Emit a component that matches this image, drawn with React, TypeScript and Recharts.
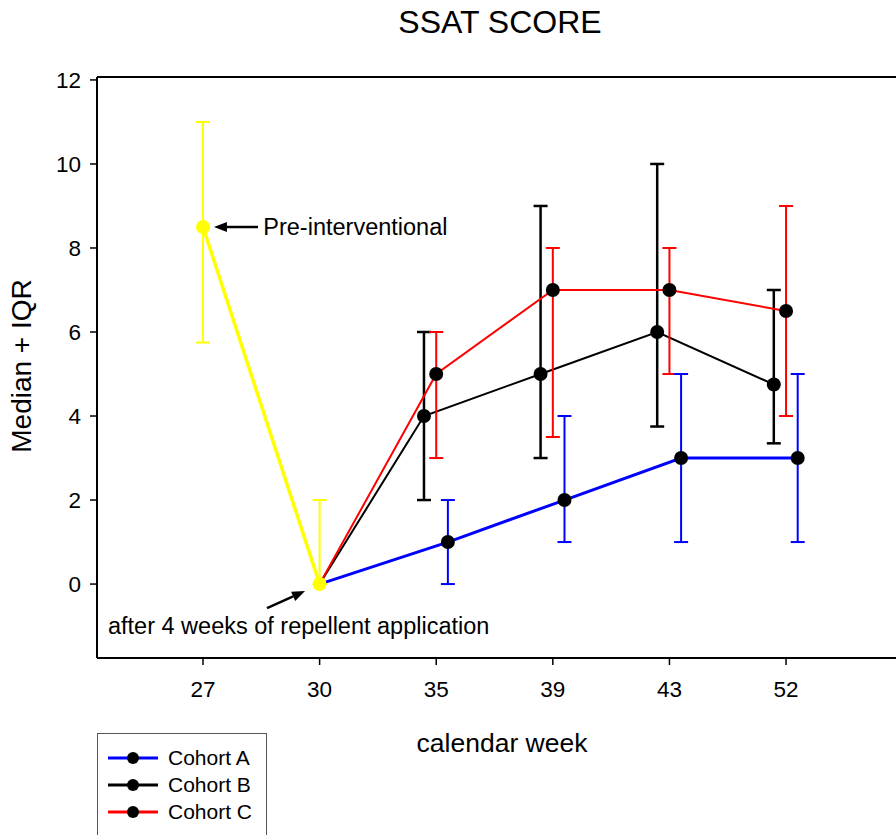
import {
  ComposedChart,
  Line,
  XAxis,
  YAxis,
  ErrorBar,
  ReferenceLine,
  ReferenceDot,
} from "recharts";

const WEEKS = ["27", "30", "35", "39", "43", "52"];
const Y_TICKS = [0, 2, 4, 6, 8, 10, 12];

// pre-interventional + after repellent (weeks 27, 30)
const PRE_MEDIAN = [8.5, 0];
const PRE_LOW = [5.75, 0];
const PRE_HIGH = [11, 2];

// cohorts, weeks 30..52 (first point is the shared start at week 30)
const A_MEDIAN = [0, 1, 2, 3, 3];
const A_LOW = [null, 0, 1, 1, 1];
const A_HIGH = [null, 2, 4, 5, 5];

const B_MEDIAN = [0, 4, 5, 6, 4.75];
const B_LOW = [null, 2, 3, 3.75, 3.35];
const B_HIGH = [null, 6, 9, 10, 7];

const C_MEDIAN = [0, 5, 7, 7, 6.5];
const C_LOW = [null, 3, 3.5, 5, 4];
const C_HIGH = [null, 6, 8, 8, 9];

const X_MIN = -0.909;
const X_MAX = 6.406;
const Y_MIN = -1.76;
const Y_MAX = 12.07;

const FONT = "'Liberation Sans', Arial, sans-serif";
const TICK_FONT = 22.5;

type Pt = { x: number; y: number; err?: [number, number] };

function build(
  median: number[],
  low: (number | null)[],
  high: (number | null)[],
  start: number,
  shift: number
): Pt[] {
  return median.map((m, i) => {
    const lo = low[i];
    const hi = high[i];
    const hasErr = lo != null && hi != null;
    return {
      x: start + i + (hasErr && start > 0 ? shift : 0),
      y: m,
      err: hasErr ? [m - (lo as number), (hi as number) - m] : undefined,
    };
  });
}

const preData = build(PRE_MEDIAN, PRE_LOW, PRE_HIGH, 0, 0);
const aData = build(A_MEDIAN, A_LOW, A_HIGH, 1, 0.1);
const bData = build(B_MEDIAN, B_LOW, B_HIGH, 1, -0.105);
const cData = build(C_MEDIAN, C_LOW, C_HIGH, 1, 0);

const SERIES = [
  { name: "Cohort A", color: "#0000ff" },
  { name: "Cohort B", color: "#000000" },
  { name: "Cohort C", color: "#ff0000" },
];

function blackDot(props: any) {
  const { cx, cy, payload, index } = props;
  if (!payload.err) return <g key={`d${index}`} />;
  return <circle key={`d${index}`} cx={cx} cy={cy} r={7} fill="#000" />;
}

function yellowDot(props: any) {
  const { cx, cy, index } = props;
  return <circle key={`y${index}`} cx={cx} cy={cy} r={7} fill="#ffff00" />;
}

function Arrow(p: any) {
  const { x1, y1, x2, y2 } = p;
  const ang = Math.atan2(y2 - y1, x2 - x1);
  const L = 13;
  const W = 5;
  const bx = x2 - L * Math.cos(ang);
  const by = y2 - L * Math.sin(ang);
  const pts = `${x2},${y2} ${bx - W * Math.sin(ang)},${by + W * Math.cos(ang)} ${bx + W * Math.sin(ang)},${by - W * Math.cos(ang)}`;
  return (
    <g>
      <line x1={x1} y1={y1} x2={bx} y2={by} stroke="#000" strokeWidth={2.5} />
      <polygon points={pts} fill="#000" />
    </g>
  );
}

function XTick(props: any) {
  const { x, y, payload } = props;
  return (
    <text x={x} y={y} dy="0.71em" textAnchor="middle" style={{ fontSize: TICK_FONT }} fontFamily={FONT} fill="#000">
      {WEEKS[payload.value]}
    </text>
  );
}

function YTick(props: any) {
  const { x, y, payload } = props;
  return (
    <text x={x} y={y} dy="0.36em" textAnchor="end" style={{ fontSize: TICK_FONT }} fontFamily={FONT} fill="#000">
      {payload.value}
    </text>
  );
}

export default function App() {
  return (
    <div
      style={{
        position: "absolute",
        left: 0,
        top: 0,
        width: 896,
        height: 835,
        overflow: "hidden",
        background: "#fff",
        fontFamily: FONT,
      }}
    >
      <div
        style={{
          position: "absolute",
          left: 0,
          width: 1000,
          top: 6,
          textAlign: "center",
          fontSize: 32,
          lineHeight: "32px",
          color: "#000",
        }}
      >
        SSAT SCORE
      </div>
      <div
        style={{
          position: "absolute",
          left: 22,
          top: 366,
          transform: "translate(-50%, -50%) rotate(-90deg)",
          whiteSpace: "nowrap",
          fontSize: 28,
          lineHeight: "28px",
          color: "#000",
        }}
      >
        Median + IQR
      </div>
      <div
        style={{
          position: "absolute",
          left: 502,
          top: 730,
          transform: "translateX(-50%)",
          whiteSpace: "nowrap",
          fontSize: 26.5,
          lineHeight: "26px",
          color: "#000",
        }}
      >
        calendar week
      </div>

      <div style={{ position: "absolute", left: 0, top: 0 }}>
        <ComposedChart
          width={960}
          height={835}
          margin={{ top: 77, right: 10, bottom: 137, left: 37 }}
        >
          <XAxis
            type="number"
            dataKey="x"
            domain={[X_MIN, X_MAX]}
            ticks={[0, 1, 2, 3, 4, 5]}
            allowDataOverflow
            height={40}
            tickSize={7}
            tickMargin={16}
            tick={XTick}
            axisLine={{ stroke: "#000", strokeWidth: 2 }}
            tickLine={{ stroke: "#000", strokeWidth: 1.5 }}
          />
          <YAxis
            type="number"
            domain={[Y_MIN, Y_MAX]}
            ticks={Y_TICKS}
            allowDataOverflow
            width={60}
            tickSize={7}
            tickMargin={9}
            tick={YTick}
            axisLine={{ stroke: "#000", strokeWidth: 2 }}
            tickLine={{ stroke: "#000", strokeWidth: 1.5 }}
          />
          <ReferenceLine y={Y_MAX} stroke="#000" strokeWidth={2} ifOverflow="visible" />

          <Line
            data={bData}
            dataKey="y"
            type="linear"
            stroke="#000"
            strokeWidth={2}
            dot={blackDot}
            activeDot={false}
            isAnimationActive={false}
          >
            <ErrorBar dataKey="err" direction="y" width={7} stroke="#000" strokeWidth={2.5} />
          </Line>
          <Line
            data={cData}
            dataKey="y"
            type="linear"
            stroke="#ff0000"
            strokeWidth={2}
            dot={blackDot}
            activeDot={false}
            isAnimationActive={false}
          >
            <ErrorBar dataKey="err" direction="y" width={7} stroke="#ff0000" strokeWidth={2} />
          </Line>
          <Line
            data={aData}
            dataKey="y"
            type="linear"
            stroke="#0000ff"
            strokeWidth={3}
            dot={blackDot}
            activeDot={false}
            isAnimationActive={false}
          >
            <ErrorBar dataKey="err" direction="y" width={7} stroke="#0000ff" strokeWidth={2} />
          </Line>
          <Line
            data={preData}
            dataKey="y"
            type="linear"
            stroke="#ffff00"
            strokeWidth={3.5}
            dot={yellowDot}
            activeDot={false}
            isAnimationActive={false}
          >
            <ErrorBar dataKey="err" direction="y" width={7} stroke="#ffff00" strokeWidth={2} />
          </Line>

          <ReferenceLine
            segment={[
              { x: 0.472, y: 8.5 },
              { x: 0.094, y: 8.5 },
            ]}
            shape={Arrow}
            ifOverflow="visible"
          />
          <ReferenceDot
            x={0.5}
            y={8.5}
            r={0}
            fill="none"
            stroke="none"
            ifOverflow="visible"
            label={{
              value: "Pre-interventional",
              position: "right",
              offset: 2,
              fill: "#000",
              fontSize: 23.5,
              fontFamily: FONT,
            }}
          />
          <ReferenceLine
            segment={[
              { x: 0.549, y: -0.571 },
              { x: 0.875, y: -0.167 },
            ]}
            shape={Arrow}
            ifOverflow="visible"
          />
          <ReferenceDot
            x={-0.815}
            y={-1.0}
            r={0}
            fill="none"
            stroke="none"
            ifOverflow="visible"
            label={{
              value: "after 4 weeks of repellent application",
              position: "right",
              offset: 0,
              fill: "#000",
              fontSize: 23.5,
              fontFamily: FONT,
            }}
          />
        </ComposedChart>
      </div>

      <div
        style={{
          position: "absolute",
          left: 97,
          top: 733,
          width: 170,
          height: 120,
          border: "1.5px solid #555",
          boxSizing: "border-box",
          paddingTop: 10,
        }}
      >
        {SERIES.map((s) => (
          <div
            key={s.name}
            style={{ display: "flex", alignItems: "center", height: 27 }}
          >
            <svg width={70} height={20} style={{ display: "block" }}>
              <line x1={10} y1={10} x2={60} y2={10} stroke={s.color} strokeWidth={3} />
              <circle cx={35} cy={10} r={6} fill="#000" />
            </svg>
            <span style={{ fontSize: 21, color: "#000", lineHeight: "21px" }}>{s.name}</span>
          </div>
        ))}
      </div>
    </div>
  );
}
